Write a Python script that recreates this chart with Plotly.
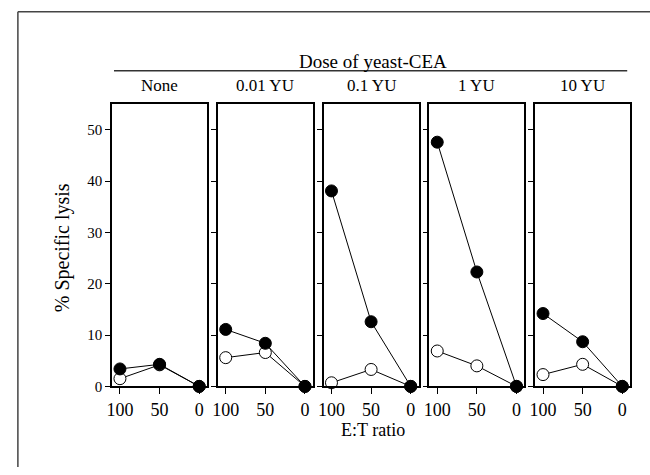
import plotly.graph_objects as go

doses = ["None", "0.01 YU", "0.1 YU", "1 YU", "10 YU"]
et_ratio = [100, 50, 0]
filled_vals = [
    [3.4, 4.3, 0],
    [11.1, 8.4, 0],
    [38.1, 12.6, 0],
    [47.6, 22.3, 0],
    [14.2, 8.7, 0],
]
open_vals = [
    [1.5, 4.2, 0],
    [5.6, 6.6, 0],
    [0.7, 3.3, 0],
    [6.9, 4.0, 0],
    [2.3, 4.3, 0],
]
y_ticks = [0, 10, 20, 30, 40, 50]
x_ticks = [100, 50, 0]

W, H = 650, 475
FONT = "'Liberation Serif', 'Times New Roman', serif"

def px(x):
    return x / W

def py(y):
    return 1 - y / H

fig = go.Figure()
lefts = [107, 213.75, 320.5, 427.25, 534]
pw = 96
top, bottom = 106, 393

for i, d in enumerate(doses):
    ax = "" if i == 0 else str(i + 1)
    fig.add_trace(go.Scatter(
        x=et_ratio, y=open_vals[i], mode="lines+markers",
        xaxis="x" + ax, yaxis="y" + ax,
        line=dict(color="black", width=1),
        marker=dict(size=12, color="white", line=dict(color="black", width=1)),
        cliponaxis=False, showlegend=False,
    ))
    fig.add_trace(go.Scatter(
        x=et_ratio, y=filled_vals[i], mode="lines+markers",
        xaxis="x" + ax, yaxis="y" + ax,
        line=dict(color="black", width=1),
        marker=dict(size=12, color="black", line=dict(color="black", width=1)),
        cliponaxis=False, showlegend=False,
    ))
    xa = dict(
        domain=[px(lefts[i]), px(lefts[i] + pw)], range=[110, -10],
        tickvals=x_ticks, ticktext=[str(v) for v in x_ticks],
        ticks="outside", ticklen=6, tickwidth=1, tickcolor="black",
        showline=True, linecolor="black", linewidth=1.5, mirror=True,
        showgrid=False, zeroline=False, anchor="y" + ax,
        tickfont=dict(family=FONT, size=18, color="black"),
    )
    ya = dict(
        domain=[py(bottom), py(top)], range=[0, 55],
        tickvals=y_ticks, ticks="outside", ticklen=5, tickwidth=1, tickcolor="black",
        showticklabels=(i == 0),
        showline=True, linecolor="black", linewidth=1.5, mirror=True,
        showgrid=False, zeroline=False, anchor="x" + ax,
        tickfont=dict(family=FONT, size=15, color="black"),
    )
    fig.layout["xaxis" + ax] = xa
    fig.layout["yaxis" + ax] = ya

annotations = []
for i, d in enumerate(doses):
    annotations.append(dict(
        x=px(lefts[i] + pw / 2), y=py(87), xref="paper", yref="paper",
        text=d, showarrow=False, xanchor="center", yanchor="middle",
        font=dict(family=FONT, size=17, color="black"),
    ))
annotations.append(dict(
    x=px(370), y=py(63), xref="paper", yref="paper", text="Dose of yeast-CEA",
    showarrow=False, xanchor="center", yanchor="middle",
    font=dict(family=FONT, size=19, color="black"),
))
annotations.append(dict(
    x=px(370), y=py(437), xref="paper", yref="paper", text="E:T ratio",
    showarrow=False, xanchor="center", yanchor="middle",
    font=dict(family=FONT, size=18, color="black"),
))
annotations.append(dict(
    x=px(57), y=py(252), xref="paper", yref="paper", text="% Specific lysis",
    showarrow=False, xanchor="center", yanchor="middle", textangle=-90,
    font=dict(family=FONT, size=20, color="black"),
))

shapes = [
    dict(type="line", xref="paper", yref="paper", x0=px(109), x1=px(627),
         y0=py(72), y1=py(72), line=dict(color="#333", width=1.5)),
    dict(type="line", xref="paper", yref="paper", x0=px(12), x1=1,
         y0=py(12), y1=py(12), line=dict(color="#444", width=1.5)),
    dict(type="line", xref="paper", yref="paper", x0=px(12), x1=px(12),
         y0=py(12), y1=0, line=dict(color="#444", width=1.5)),
]

fig.update_layout(
    width=W, height=H, margin=dict(l=0, r=0, t=0, b=0),
    paper_bgcolor="white", plot_bgcolor="white",
    annotations=annotations, shapes=shapes,
)
fig.write_html("out.html")
